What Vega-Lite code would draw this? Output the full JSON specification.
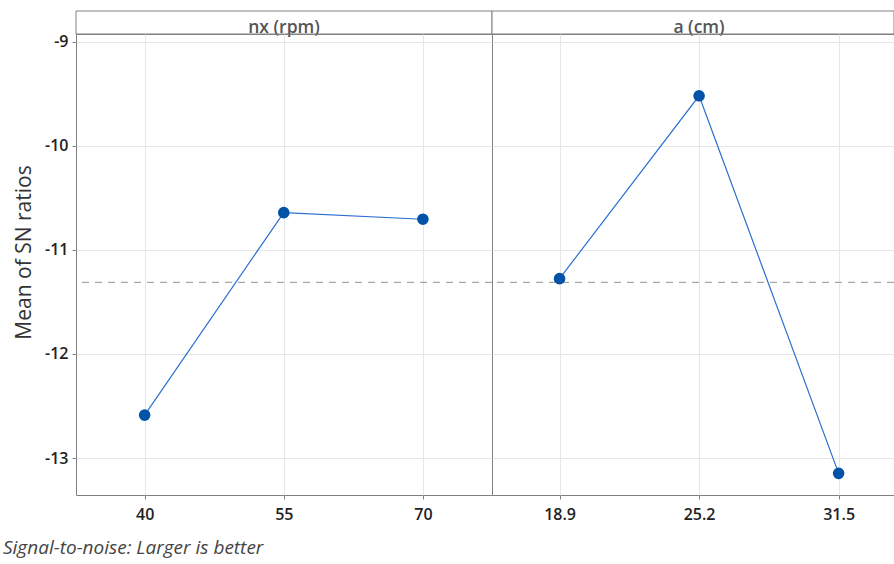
{
  "$schema": "https://vega.github.io/schema/vega-lite/v6.json",
  "padding": {"left": 3, "top": 10, "right": 0, "bottom": 0},
  "background": "white",
  "datasets": {
    "effects": [
      {"factor": "nx (rpm)", "level": 40, "mean": -12.587},
      {"factor": "nx (rpm)", "level": 55, "mean": -10.641},
      {"factor": "nx (rpm)", "level": 70, "mean": -10.705},
      {"factor": "a (cm)", "level": 18.9, "mean": -11.276},
      {"factor": "a (cm)", "level": 25.2, "mean": -9.519},
      {"factor": "a (cm)", "level": 31.5, "mean": -13.147}
    ]
  },
  "title": {
    "text": "Signal-to-noise: Larger is better",
    "orient": "bottom",
    "anchor": "start",
    "frame": "group",
    "dx": -73,
    "offset": 16,
    "font": "Open Sans",
    "fontSize": 19,
    "fontStyle": "italic",
    "fontWeight": "normal",
    "color": "#444444"
  },
  "columns": 2,
  "spacing": 0,
  "bounds": "flush",
  "concat": [
    {
      "width": 416,
      "height": 23,
      "data": {"name": "effects"},
      "transform": [
        {"filter": "datum.factor === 'nx (rpm)'"},
        {"aggregate": [{"op": "count", "as": "n"}], "groupby": ["factor"]}
      ],
      "layer": [
        {"mark": {"type": "rect", "fill": "white", "stroke": "#808080", "strokeWidth": 1}, "encoding": {}},
        {
          "mark": {"type": "text", "font": "Open Sans", "fontSize": 17.5, "fontWeight": 600, "color": "#555555", "baseline": "alphabetic", "dy": 10},
          "encoding": {"text": {"field": "factor", "type": "nominal"}}
        }
      ]
    },
    {
      "width": 402,
      "height": 23,
      "data": {"name": "effects"},
      "transform": [
        {"filter": "datum.factor === 'a (cm)'"},
        {"aggregate": [{"op": "count", "as": "n"}], "groupby": ["factor"]}
      ],
      "layer": [
        {"mark": {"type": "rect", "fill": "white", "stroke": "#808080", "strokeWidth": 1}, "encoding": {}},
        {
          "mark": {"type": "text", "font": "Open Sans", "fontSize": 17.5, "fontWeight": 600, "color": "#555555", "baseline": "alphabetic", "dy": 10, "dx": 6},
          "encoding": {"text": {"field": "factor", "type": "nominal"}}
        }
      ]
    },
    {
      "width": 416,
      "height": 461,
      "data": {"name": "effects"},
      "layer": [
        {
          "mark": {"type": "rule", "color": "#a6a6a6", "strokeDash": [7, 6], "strokeWidth": 1.2},
          "encoding": {
            "y": {"aggregate": "mean", "field": "mean", "type": "quantitative", "title": "Mean of SN ratios",
                  "scale": {"domain": [-13.355, -8.925], "nice": false, "zero": false}}
          }
        },
        {
          "transform": [{"filter": "datum.factor === 'nx (rpm)'"}],
          "mark": {"type": "line", "color": "#2c6fd1", "strokeWidth": 1.2},
          "encoding": {
            "x": {"field": "level", "type": "quantitative",
                  "scale": {"domain": [32.6, 77.45], "nice": false, "zero": false},
                  "axis": {"values": [40, 55, 70], "labelExpr": "datum.value + ''", "title": null, "tickSize": 4, "labelPadding": 7, "grid": true}},
            "y": {"field": "mean", "type": "quantitative", "title": "Mean of SN ratios",
                  "scale": {"domain": [-13.355, -8.925], "nice": false, "zero": false},
                  "axis": {"values": [-9, -10, -11, -12, -13], "labelExpr": "datum.value + ''", "tickSize": 4, "labelPadding": 4, "grid": true,
                           "titleFont": "Open Sans", "titleFontSize": 21, "titleFontWeight": "normal", "titleColor": "#333333",
                           "titleX": -46, "titleY": 218, "titleBaseline": "alphabetic"}}
          }
        },
        {
          "transform": [{"filter": "datum.factor === 'nx (rpm)'"}],
          "mark": {"type": "point", "filled": true, "size": 135, "color": "#0053a6", "opacity": 1},
          "encoding": {
            "x": {"field": "level", "type": "quantitative"},
            "y": {"field": "mean", "type": "quantitative", "title": "Mean of SN ratios"}
          }
        }
      ]
    },
    {
      "width": 402,
      "height": 461,
      "data": {"name": "effects"},
      "layer": [
        {
          "mark": {"type": "rule", "color": "#a6a6a6", "strokeDash": [7, 6], "strokeWidth": 1.2},
          "encoding": {
            "y": {"aggregate": "mean", "field": "mean", "type": "quantitative", "title": null,
                  "scale": {"domain": [-13.355, -8.925], "nice": false, "zero": false}}
          }
        },
        {
          "transform": [{"filter": "datum.factor === 'a (cm)'"}],
          "mark": {"type": "line", "color": "#2c6fd1", "strokeWidth": 1.2},
          "encoding": {
            "x": {"field": "level", "type": "quantitative",
                  "scale": {"domain": [15.85, 34.0], "nice": false, "zero": false},
                  "axis": {"values": [18.9, 25.2, 31.5], "labelExpr": "datum.value + ''", "title": null, "tickSize": 4, "labelPadding": 7, "grid": true}},
            "y": {"field": "mean", "type": "quantitative", "title": null,
                  "scale": {"domain": [-13.355, -8.925], "nice": false, "zero": false},
                  "axis": {"values": [-9, -10, -11, -12, -13], "labels": false, "ticks": false, "grid": true}}
          }
        },
        {
          "transform": [{"filter": "datum.factor === 'a (cm)'"}],
          "mark": {"type": "point", "filled": true, "size": 135, "color": "#0053a6", "opacity": 1},
          "encoding": {
            "x": {"field": "level", "type": "quantitative"},
            "y": {"field": "mean", "type": "quantitative", "title": null}
          }
        }
      ]
    }
  ],
  "config": {
    "font": "Open Sans",
    "view": {"stroke": "#808080", "strokeWidth": 1},
    "axis": {
      "domain": false,
      "gridColor": "#e6e6e6",
      "gridWidth": 1,
      "tickColor": "#808080",
      "labelFont": "Open Sans",
      "labelFontSize": 16,
      "labelFontWeight": 600,
      "labelColor": "#222222"
    }
  }
}
